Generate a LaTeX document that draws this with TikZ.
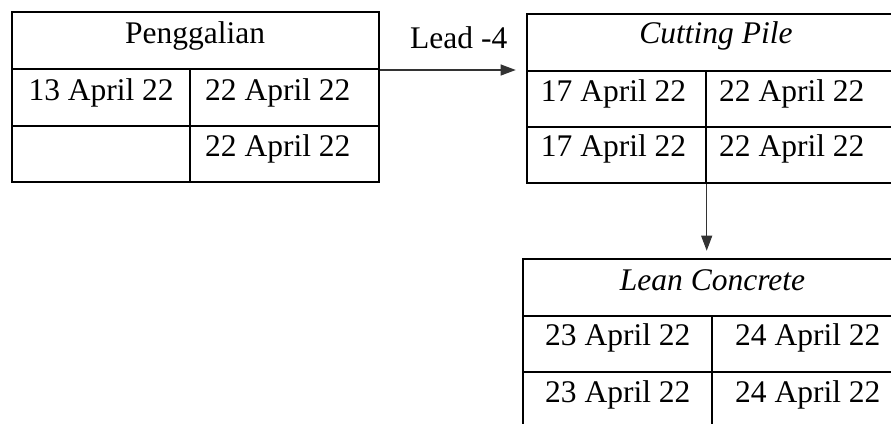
\documentclass[tikz,border=0pt]{standalone}
\usepackage{fontspec}
\setmainfont{Liberation Serif}
\usetikzlibrary{arrows.meta}
\begin{document}
\begin{tikzpicture}[x=1pt,y=-1pt,
  box/.style={draw, line width=2pt, inner sep=0pt, rectangle},
  gridline/.style={line width=2pt},
  txt/.style={inner sep=0pt, font=\fontsize{31.5}{36}\selectfont},
  conn/.style={line width=1.1pt, draw=black!80, -{Triangle[length=15pt,width=11pt]}}]
\useasboundingbox (0,0) rectangle (891,423);
\clip (0,0) rectangle (891,423);
% boxes
\node[box, minimum width=367pt, minimum height=169.4pt] (b1) at (195.5,97) {};
\node[box, minimum width=377.4pt, minimum height=169.3pt] (b2) at (716,98.65) {};
\node[box, minimum width=379.6pt, minimum height=169.7pt] (b3) at (712.5,344.15) {};
% inner grid of box 1
\draw[gridline] (12,69.3) -- (379,69.3);
\draw[gridline] (12,126) -- (379,126);
\draw[gridline] (190,69.3) -- (190,181.7);
% inner grid of box 2
\draw[gridline] (527.3,70.7) -- (904.7,70.7);
\draw[gridline] (527.3,126.7) -- (904.7,126.7);
\draw[gridline] (706,70.7) -- (706,183.3);
% inner grid of box 3
\draw[gridline] (522.7,315.7) -- (902.3,315.7);
\draw[gridline] (522.7,372.3) -- (902.3,372.3);
\draw[gridline] (711.7,315.7) -- (711.7,429);
% texts
\node[txt, anchor=base] (t1) at (195,43.3) {Penggalian};
\node[txt, anchor=base west] (t1a) at (28.3,100) {13 April 22};
\node[txt, anchor=base west] (t1b) at (205,100) {22 April 22};
\node[txt, anchor=base west] (t1c) at (205,156) {22 April 22};
\node[txt, anchor=base] (t2) at (716,43) {\itshape Cutting Pile};
\node[txt, anchor=base west] (t2a) at (540.7,101) {17 April 22};
\node[txt, anchor=base west] (t2b) at (719,101) {22 April 22};
\node[txt, anchor=base west] (t2c) at (540.7,156.7) {17 April 22};
\node[txt, anchor=base west] (t2d) at (719,156.7) {22 April 22};
\node[txt, anchor=base] (t3) at (712.5,290) {\itshape Lean Concrete};
\node[txt, anchor=base west] (t3a) at (545,345.7) {23 April 22};
\node[txt, anchor=base west] (t3b) at (735,345.7) {24 April 22};
\node[txt, anchor=base west] (t3c) at (545,402.3) {23 April 22};
\node[txt, anchor=base west] (t3d) at (735,402.3) {24 April 22};
\node[txt, anchor=base west] (lead) at (410,48.3) {Lead -4};
% connectors
\coordinate (a1) at (380,70);
\draw[conn, shorten >=10.6pt] (b1.east |- a1) -- (b2.west |- a1);
\coordinate (a2) at (706.7,184);
\draw[conn, shorten >=7.6pt] (a2) -- (a2 |- b3.north);
\end{tikzpicture}
\end{document}
